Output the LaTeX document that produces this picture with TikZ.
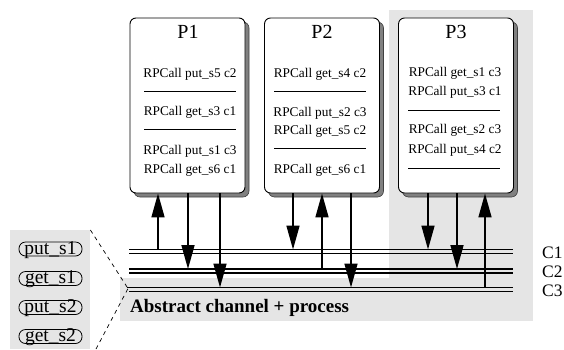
\documentclass[tikz,border=0pt]{standalone}
\usepackage{fontspec}
\setmainfont{Liberation Serif}
\usetikzlibrary{arrows.meta}
\begin{document}
\begin{tikzpicture}[x=1pt,y=-1pt,
  bgfill/.style={fill=gray!20, draw=none},
  procbox/.style={draw, line width=0.9pt, rounded corners=6pt, fill=white, minimum width=115pt, minimum height=175pt, inner sep=0pt},
  shadowbox/.style={fill=black!50, draw=black!75, line width=0.6pt, rounded corners=6pt, minimum width=115pt, minimum height=175pt, inner sep=0pt},
  ptitle/.style={font=\fontsize{20}{20}\selectfont, anchor=base, inner sep=0pt},
  call/.style={font=\fontsize{13.3}{13.3}\selectfont, anchor=base, inner sep=0pt},
  rulerline/.style={line width=0.9pt},
  chan/.style={line width=1.6pt},
  arr/.style={line width=1.6pt, -{Triangle[length=24pt,width=13pt]}},
  btn/.style={draw, line width=0.8pt, rounded corners=6.5pt, minimum width=63pt, text height=12pt, text depth=2pt, inner sep=0pt, font=\fontsize{19.5}{19.5}\selectfont},
  clabel/.style={font=\fontsize{17.5}{17.5}\selectfont, anchor=base west, inner sep=0pt},
  zoomline/.style={dashed, dash pattern=on 4pt off 4pt, line width=0.7pt}]
\useasboundingbox (0,0) rectangle (564,349);
% backgrounds
\fill[bgfill] (389,10) rectangle (533,279);
\fill[bgfill] (120,278) rectangle (533,321);
\node[bgfill, minimum width=80pt, minimum height=119pt, inner sep=0pt, anchor=north west] (iface) at (10,230) {};
% process boxes
\node[shadowbox] (S1) at (191.5,109.5) {};
\node[procbox] (P1) at (187.5,105.5) {};
\node[shadowbox] (S2) at (326,109.5) {};
\node[procbox] (P2) at (322,105.5) {};
\node[shadowbox] (S3) at (460,109.5) {};
\node[procbox] (P3) at (456,105.5) {};
% P1 contents
\node[ptitle] (T1) at (188,38.5) {P1};
\node[call] (p1a) at (190,77) {RPCall put\_s5 c2};
\draw[rulerline] (144,91) -- (236,91);
\node[call] (p1b) at (190,115.5) {RPCall get\_s3 c1};
\draw[rulerline] (144,129) -- (236,129);
\node[call] (p1c) at (190,154) {RPCall put\_s1 c3};
\node[call] (p1d) at (190,173) {RPCall get\_s6 c1};
% P2 contents
\node[ptitle] (T2) at (322,38) {P2};
\node[call] (p2a) at (320,77) {RPCall get\_s4 c2};
\draw[rulerline] (274,91) -- (366,91);
\node[call] (p2b) at (320,116) {RPCall put\_s2 c3};
\node[call] (p2c) at (320,134.5) {RPCall get\_s5 c2};
\draw[rulerline] (274,148) -- (366,148);
\node[call] (p2d) at (320,173) {RPCall get\_s6 c1};
% P3 contents
\node[ptitle] (T3) at (456,38.5) {P3};
\node[call] (p3a) at (455,76) {RPCall get\_s1 c3};
\node[call] (p3b) at (455,95) {RPCall put\_s3 c1};
\draw[rulerline] (408,110) -- (500,110);
\node[call] (p3c) at (455,133.5) {RPCall get\_s2 c3};
\node[call] (p3d) at (455,153) {RPCall put\_s4 c2};
\draw[rulerline] (408,168) -- (500,168);
% channels
\coordinate (c1) at (129,249.5); \coordinate (c1r) at (513,249.5);
\coordinate (c1b) at (129,253.5); \coordinate (c1br) at (513,253.5);
\coordinate (c2) at (129,269); \coordinate (c2r) at (513,269);
\coordinate (c2b) at (129,273); \coordinate (c2br) at (513,273);
\coordinate (c3) at (127,287.5); \coordinate (c3r) at (513,287.5);
\coordinate (c3b) at (129,291.5); \coordinate (c3br) at (513,291.5);
\draw[chan] (c1) -- (c1r); \draw[chan] (c1b) -- (c1br);
\draw[chan] (c2) -- (c2r); \draw[chan] (c2b) -- (c2br);
\draw[chan] (c3) -- (c3r); \draw[chan] (c3b) -- (c3br);
\node[clabel] (L1) at (542,258.5) {C1};
\node[clabel] (L2) at (542,277.5) {C2};
\node[clabel] (L3) at (542,296.5) {C3};
% arrow x positions
\coordinate (x11) at (158,0); \coordinate (x12) at (188,0); \coordinate (x13) at (220,0);
\coordinate (x21) at (293,0); \coordinate (x22) at (322,0); \coordinate (x23) at (351,0);
\coordinate (x31) at (428,0); \coordinate (x32) at (457,0); \coordinate (x33) at (485,0);
% arrows P1
\draw[arr] (x11 |- c1) -- (P1.south -| x11);
\draw[arr] (P1.south -| x12) -- (x12 |- c2);
\draw[arr] (P1.south -| x13) -- (x13 |- c3);
% arrows P2
\draw[arr] (P2.south -| x21) -- (x21 |- c1);
\draw[arr] (x22 |- c2) -- (P2.south -| x22);
\draw[arr] (P2.south -| x23) -- (x23 |- c3);
% arrows P3
\draw[arr] (P3.south -| x31) -- (x31 |- c1);
\draw[arr] (P3.south -| x32) -- (x32 |- c2);
\draw[arr] (x33 |- c3) -- (P3.south -| x33);
% abstract label
\node[font=\bfseries\fontsize{19}{19}\selectfont, anchor=base west, inner sep=0pt] (abs) at (130,312) {Abstract channel + process};
% interface buttons
\node[btn] (b1) at (50.5,249) {put\_s1};
\node[btn] (b2) at (50.5,278.5) {get\_s1};
\node[btn] (b3) at (50.5,307.5) {put\_s2};
\node[btn] (b4) at (50.5,336.5) {get\_s2};
% zoom lines
\coordinate (ztip) at (128,288.5);
\coordinate (zlow) at (96,349);
\draw[zoomline] (iface.north east) -- (ztip);
\draw[zoomline] (zlow) -- (ztip);
\end{tikzpicture}
\end{document}
